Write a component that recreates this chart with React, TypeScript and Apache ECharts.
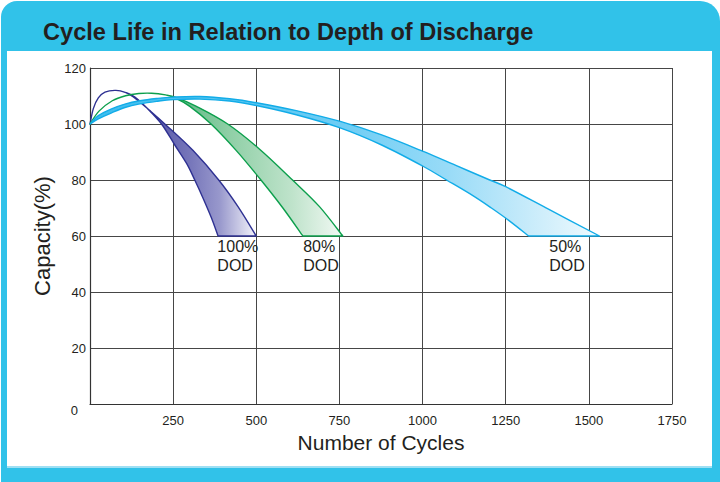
import React, { useEffect, useRef } from "react";
import * as echarts from "echarts";

const titleText = "Cycle Life in Relation to Depth of Discharge";
const xAxisName = "Number of Cycles";
const yAxisName = "Capacity(%)";

// [cycles, capacity %]
const dod100Outer = [
  [0, 100], [10, 105.5], [25, 109.3], [45, 111.4], [78, 112], [108, 111.2], [140, 108.8],
  [180, 104.8], [230, 99.5], [310, 90.5], [387, 80], [445, 70.5], [500, 60],
];
const dod100Inner = [
  [0, 100], [10, 105.5], [25, 109.3], [45, 111.4], [78, 112], [108, 111.2], [135, 109.6],
  [172, 105.6], [215, 100], [255, 92.5], [290, 86], [315, 80], [340, 73.5], [365, 66.5], [385, 60],
];
const dod80Outer = [
  [0, 100], [27, 104.6], [67, 108.3], [107, 110.1], [147, 110.9], [185, 111], [227, 110.4],
  [260, 109.4], [320, 106.3], [414, 100], [510, 91], [609, 80], [690, 70.5], [760, 60],
];
const dod80Inner = [
  [0, 100], [27, 104.6], [67, 108.3], [107, 110.1], [147, 110.9], [185, 111], [227, 110.4],
  [255, 109.3], [300, 106.3], [364, 100], [440, 90.5], [514, 80], [580, 70], [640, 60],
];
const dod50Outer = [
  [0, 100], [25, 103], [65, 105.4], [105, 107.1], [150, 108.3], [200, 109.1], [250, 109.6],
  [330, 109.8], [420, 109], [500, 107.6], [620, 104.8], [750, 101], [877, 96.1], [1000, 90.3],
  [1100, 85.2], [1202, 80], [1250, 77.6], [1380, 69.5], [1532, 60],
];
const dod50Inner = [
  [0, 100], [25, 101.8], [65, 104], [105, 105.9], [150, 107.2], [200, 108.1], [250, 108.7],
  [330, 108.9], [420, 108.2], [500, 106.6], [620, 103.3], [750, 98.7], [877, 92.5], [1000, 85],
  [1072, 80], [1150, 74.5], [1207, 70], [1260, 65.5], [1319, 60],
];

const dodLabelText = ["100%\nDOD", "80%\nDOD", "50%\nDOD"];
const dodLabelPos = [[383, 60], [641, 60], [1381, 60]];

const FONT = "'Liberation Sans', Arial, Helvetica, sans-serif";
const INK = "#231f20";
const FRAME = "#31c2e9";

const bands = [
  {
    outer: dod100Outer, inner: dod100Inner, stroke: "#2e3192",
    stops: [[0, "#3e3e98"], [0.3, "#4c4ca0"], [0.6, "#7676ba"], [0.78, "#9898cc"], [1, "#f4f4fb"]],
  },
  {
    outer: dod80Outer, inner: dod80Inner, stroke: "#0c9f4c",
    stops: [[0, "#3faa6c"], [0.35, "#5fb985"], [0.55, "#8fcfa6"], [0.8, "#bfe3cb"], [1, "#f2f9f4"]],
  },
  {
    outer: dod50Outer, inner: dod50Inner, stroke: "#12ace8",
    stops: [[0, "#3cbdee"], [0.5, "#6fcdf4"], [0.7, "#98dbf7"], [0.85, "#c4eafa"], [1, "#f0fafe"]],
  },
];

function splinePath(pts: number[][], start: string): string {
  let d = `${start}${pts[0][0]},${pts[0][1]}`;
  for (let i = 0; i < pts.length - 1; i++) {
    const p0 = pts[i - 1] || pts[i];
    const p1 = pts[i];
    const p2 = pts[i + 1];
    const p3 = pts[i + 2] || p2;
    const c1x = p1[0] + (p2[0] - p0[0]) / 6;
    const c1y = p1[1] + (p2[1] - p0[1]) / 6;
    const c2x = p2[0] - (p3[0] - p1[0]) / 6;
    const c2y = p2[1] - (p3[1] - p1[1]) / 6;
    d += ` C${c1x},${c1y} ${c2x},${c2y} ${p2[0]},${p2[1]}`;
  }
  return d;
}

export default function App() {
  const ref = useRef<HTMLDivElement>(null);

  useEffect(() => {
    document.body.style.margin = "0";
    if (!ref.current) return;
    const chart = echarts.init(ref.current, null, { renderer: "svg" });

    const bandSeries = bands.map((b, i) => ({
      type: "custom",
      coordinateSystem: "cartesian2d",
      silent: true,
      clip: false,
      z: 3 + i,
      data: [b.outer[0]],
      renderItem: (_params: any, api: any) => {
        const o = b.outer.map((p) => api.coord(p));
        const n = b.inner.map((p) => api.coord(p)).reverse();
        const d = splinePath(o, "M") + " " + splinePath(n, "L") + " Z";
        return {
          type: "path",
          shape: { pathData: d },
          style: {
            fill: {
              type: "linear", x: 0, y: 0, x2: 1, y2: 0,
              colorStops: b.stops.map((s) => ({ offset: s[0], color: s[1] })),
            },
            stroke: b.stroke,
            lineWidth: 1.4,
            lineJoin: "round",
          },
        };
      },
    }));

    const labelSeries = {
      type: "custom",
      coordinateSystem: "cartesian2d",
      silent: true,
      clip: false,
      z: 10,
      data: dodLabelPos,
      renderItem: (params: any, api: any) => {
        const p = api.coord([api.value(0), api.value(1)]);
        return {
          type: "text",
          x: p[0],
          y: p[1] + 1,
          style: {
            text: dodLabelText[params.dataIndex],
            fill: INK,
            fontSize: 16,
            fontFamily: FONT,
            lineHeight: 19,
            align: "left",
            verticalAlign: "top",
          },
        };
      },
    };

    chart.setOption({
      animation: false,
      backgroundColor: "transparent",
      title: {
        text: titleText,
        left: 38,
        top: 15,
        textStyle: { fontSize: 23.6, fontWeight: "bold", color: INK, fontFamily: FONT },
      },
      grid: { left: 90, right: 48, top: 68, bottom: 78, containLabel: false },
      xAxis: {
        type: "value",
        min: 0,
        max: 1750,
        interval: 250,
        name: xAxisName,
        nameLocation: "middle",
        nameGap: 25,
        nameTextStyle: { fontSize: 21, color: INK, fontFamily: FONT },
        axisLine: { show: true, lineStyle: { color: "#333", width: 1.2 } },
        axisTick: { show: false },
        splitLine: { show: true, lineStyle: { color: "#464646", width: 1 } },
        axisLabel: {
          margin: 10,
          fontSize: 13,
          color: INK,
          fontFamily: FONT,
          formatter: (v: number) => (v === 0 ? "" : String(v)),
        },
      },
      yAxis: {
        type: "value",
        min: 0,
        max: 120,
        interval: 20,
        name: yAxisName,
        nameLocation: "middle",
        nameGap: 35,
        nameTextStyle: { fontSize: 22, color: INK, fontFamily: FONT },
        axisLine: { show: true, lineStyle: { color: "#333", width: 1.2 } },
        axisTick: { show: false },
        splitLine: { show: true, lineStyle: { color: "#464646", width: 1 } },
        axisLabel: {
          margin: 4,
          fontSize: 13,
          color: INK,
          fontFamily: FONT,
          formatter: (v: number) => (v === 0 ? "{z|0}" : String(v)),
          rich: { z: { fontSize: 13, color: INK, fontFamily: FONT, padding: [13, 8, 0, 0] } },
        },
      },
      series: [...bandSeries, labelSeries],
    });

    return () => chart.dispose();
  }, []);

  return (
    <div style={{ position: "fixed", left: 0, top: 0, width: 720, height: 482, background: "#fff", overflow: "hidden" }}>
      <div style={{ position: "absolute", left: 1, top: 1, width: 719, height: 481, background: FRAME, borderRadius: "16px 20px 0 0" }} />
      <div style={{ position: "absolute", left: 7, top: 51, width: 705, height: 415, background: "#fff" }} />
      <div style={{ position: "absolute", left: 7, top: 466, width: 705, height: 2, background: "#9fdff3" }} />
      <div ref={ref} style={{ position: "absolute", left: 0, top: 0, width: 720, height: 482 }} />
    </div>
  );
}
